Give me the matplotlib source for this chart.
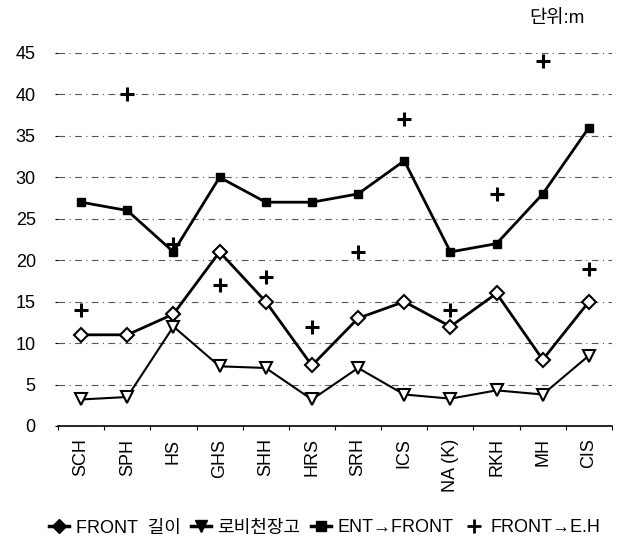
import matplotlib
matplotlib.use("Agg")
import matplotlib.pyplot as plt
import numpy as np

categories = ["SCH", "SPH", "HS", "GHS", "SHH", "HRS", "SRH", "ICS", "NA (K)", "RKH", "MH", "CIS"]
front_len = [11, 11, 13.5, 21, 15, 7.3, 13, 15, 12, 16, 8, 15]
lobby_h = [3.2, 3.5, 12, 7.2, 7, 3.2, 7, 3.8, 3.3, 4.3, 3.8, 8.5]
ent_front = [27, 26, 21, 30, 27, 27, 28, 32, 21, 22, 28, 36]
front_eh = [14, 40, 22, 17, 18, 12, 21, 37, 14, 28, 44, 19]
yticks = [0, 5, 10, 15, 20, 25, 30, 35, 40, 45]

fam = ["Liberation Sans", "Noto Sans CJK KR", "DejaVu Sans"]
plt.rcParams["font.family"] = fam

fig = plt.figure(figsize=(6.19, 5.46), dpi=100)
ax = fig.add_axes([58/619, 1-426/546, (612-58)/619, (426-53)/546])
x = np.arange(len(categories))

ax.plot(x, front_len, color="black", lw=2, marker="D", ms=7, mfc="white", mec="black", mew=1.5)
ax.plot(x, lobby_h, color="black", lw=1.5, marker="v", ms=8, mfc="white", mec="black", mew=1.5)
ax.plot(x, ent_front, color="black", lw=2, marker="s", ms=6, mfc="black", mec="black")
ax.plot(x, front_eh, color="black", lw=0, marker="+", ms=10, mew=2.2)

ax.set_xlim(-0.5, len(categories)-0.5)
ax.set_ylim(0, 45)
ax.set_yticks(yticks)
ax.set_yticklabels([str(v) for v in yticks], fontsize=13)
ax.tick_params(axis="y", length=2, width=0.8, pad=14)
ax.set_xticks(x)
ax.set_xticklabels(categories, rotation=90, fontsize=13)
ax.tick_params(axis="x", length=0, pad=9)
ax.set_xticks(np.arange(-0.5, len(categories), 1), minor=True)
ax.tick_params(axis="x", which="minor", length=3, width=0.8, direction="out")
for s in ["top", "right", "left"]:
    ax.spines[s].set_visible(False)
ax.spines["bottom"].set_linewidth(1.2)
for v in yticks[1:]:
    ax.axhline(v, color="#555555", lw=0.8, ls=(0, (6, 4, 1, 4)), zorder=0)

fig.text(0.945, 1-18/546, "단위:m", ha="right", va="center", fontsize=13.5)

handles = [
    plt.Line2D([], [], color="black", lw=2.5, marker="D", ms=7, mfc="black", mec="black"),
    plt.Line2D([], [], color="black", lw=2.5, marker="v", ms=8, mfc="black", mec="black"),
    plt.Line2D([], [], color="black", lw=2.5, marker="s", ms=7, mfc="black", mec="black"),
    plt.Line2D([], [], color="black", lw=0, marker="+", ms=10, mew=2),
]
fig.legend(handles, ["FRONT  길이", "로비천장고", "ENT→FRONT", "FRONT→E.H"],
           loc="center", bbox_to_anchor=(0.525, 1-528/546), ncol=4, frameon=False,
           fontsize=13, handlelength=1.1, handletextpad=0.35, columnspacing=0.6)

fig.savefig("out.png", dpi=100)
